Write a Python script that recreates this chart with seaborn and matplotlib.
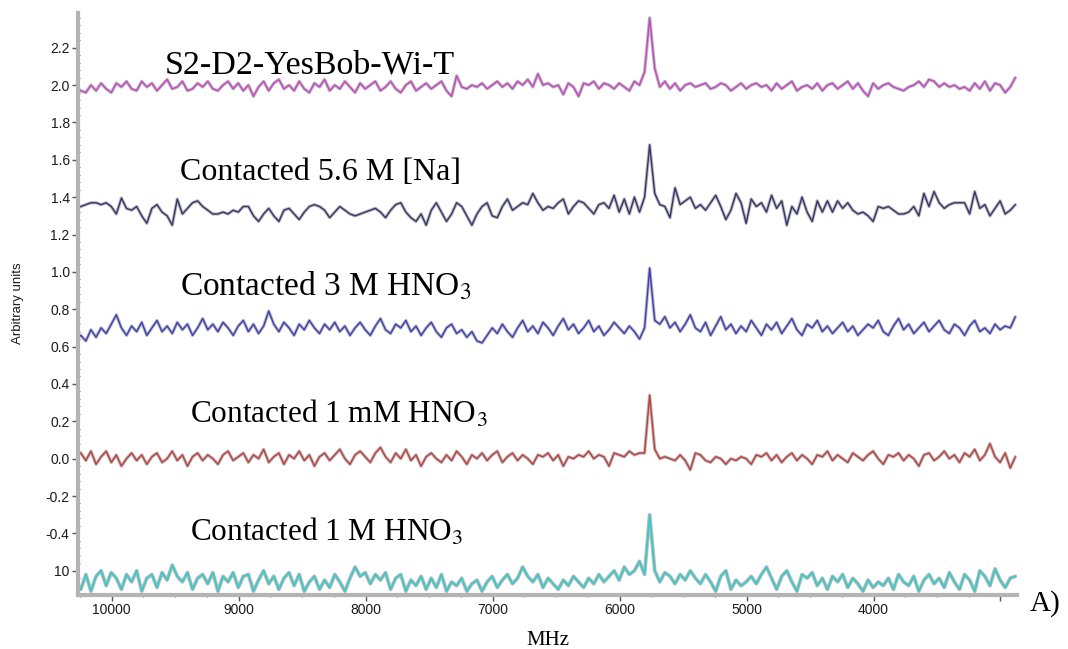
import numpy as np
import pandas as pd
import matplotlib
matplotlib.use("Agg")
import matplotlib.pyplot as plt
import matplotlib.patheffects as pe
from matplotlib.ticker import MultipleLocator, FixedLocator, FixedFormatter
import seaborn as sns

# Sampling grid of the spectra (MHz), high to low frequency
FREQ_START = 10283
FREQ_STEP = 40

# Spectrum values (arbitrary units), one list per sample
s2_d2_yesbob = [
    1.99, 1.97, 1.96, 2.00, 1.97, 2.01, 1.98, 1.96, 2.01, 1.99,
    2.02, 1.98, 1.97, 2.02, 1.99, 2.01, 1.97, 2.00, 2.03, 1.98,
    1.99, 2.02, 1.97, 1.98, 2.01, 1.99, 2.02, 1.98, 1.97, 2.00,
    2.02, 1.98, 2.01, 1.97, 2.00, 1.94, 1.99, 2.02, 1.97, 2.01,
    2.03, 1.98, 2.00, 1.97, 2.02, 1.98, 1.96, 2.01, 1.99, 2.03,
    1.97, 2.00, 1.98, 2.02, 1.99, 1.96, 2.01, 1.98, 2.00, 2.02,
    1.97, 1.99, 2.02, 1.98, 1.96, 2.00, 2.02, 1.97, 1.99, 2.01,
    1.98, 2.00, 2.02, 1.97, 1.94, 2.05, 1.99, 1.98, 2.00, 1.99,
    2.01, 1.98, 2.00, 2.02, 1.99, 2.01, 1.98, 2.02, 2.00, 2.03,
    1.99, 2.06, 2.00, 2.01, 1.99, 2.00, 1.95, 2.01, 1.99, 1.94,
    2.01, 2.00, 2.02, 1.98, 2.01, 2.00, 1.98, 2.01, 1.99, 1.97,
    2.02, 2.00, 2.07, 2.36, 2.09, 1.99, 2.02, 1.98, 2.01, 1.97,
    2.00, 2.01, 1.99, 2.00, 2.01, 1.98, 1.99, 2.01, 2.00, 1.97,
    1.99, 2.01, 1.98, 2.00, 2.01, 1.99, 2.00, 1.97, 2.01, 1.98,
    2.00, 2.02, 1.97, 1.99, 2.00, 1.98, 2.01, 1.97, 2.00, 2.01,
    1.98, 2.00, 2.02, 1.98, 2.01, 1.97, 1.94, 2.01, 1.98, 2.00,
    2.01, 1.99, 1.98, 1.97, 1.99, 2.00, 2.02, 1.99, 2.03, 2.02,
    1.99, 2.01, 1.99, 2.00, 1.98, 1.99, 1.97, 2.01, 1.98, 2.02,
    1.97, 2.01, 2.00, 1.96, 1.99, 2.04,
]

contacted_na = [
    1.34, 1.35, 1.36, 1.37, 1.37, 1.36, 1.37, 1.35, 1.31, 1.395,
    1.34, 1.33, 1.35, 1.30, 1.26, 1.34, 1.36, 1.32, 1.30, 1.25,
    1.39, 1.31, 1.34, 1.37, 1.38, 1.35, 1.33, 1.31, 1.31, 1.32,
    1.31, 1.33, 1.32, 1.35, 1.35, 1.30, 1.27, 1.31, 1.34, 1.30,
    1.27, 1.33, 1.34, 1.31, 1.28, 1.32, 1.35, 1.36, 1.35, 1.33,
    1.29, 1.32, 1.35, 1.33, 1.31, 1.30, 1.31, 1.32, 1.33, 1.34,
    1.32, 1.29, 1.33, 1.36, 1.37, 1.32, 1.29, 1.27, 1.31, 1.25,
    1.33, 1.37, 1.32, 1.27, 1.31, 1.37, 1.35, 1.30, 1.25, 1.31,
    1.35, 1.37, 1.30, 1.29, 1.35, 1.39, 1.33, 1.35, 1.37, 1.36,
    1.42, 1.37, 1.33, 1.35, 1.34, 1.37, 1.39, 1.31, 1.35, 1.38,
    1.37, 1.34, 1.31, 1.36, 1.37, 1.34, 1.41, 1.32, 1.39, 1.31,
    1.40, 1.32, 1.40, 1.68, 1.42, 1.36, 1.35, 1.29, 1.45, 1.36,
    1.38, 1.40, 1.34, 1.36, 1.33, 1.37, 1.41, 1.35, 1.28, 1.33,
    1.42, 1.37, 1.26, 1.39, 1.35, 1.37, 1.32, 1.41, 1.34, 1.38,
    1.25, 1.35, 1.31, 1.40, 1.32, 1.27, 1.38, 1.32, 1.38, 1.32,
    1.38, 1.34, 1.37, 1.33, 1.31, 1.32, 1.30, 1.27, 1.35, 1.34,
    1.35, 1.33, 1.31, 1.31, 1.32, 1.35, 1.30, 1.42, 1.35, 1.43,
    1.37, 1.34, 1.36, 1.37, 1.37, 1.37, 1.31, 1.43, 1.34, 1.36,
    1.30, 1.34, 1.38, 1.31, 1.33, 1.36,
]

contacted_3m = [
    0.64, 0.66, 0.63, 0.69, 0.65, 0.70, 0.67, 0.72, 0.77, 0.70,
    0.66, 0.71, 0.68, 0.73, 0.66, 0.70, 0.74, 0.68, 0.71, 0.67,
    0.73, 0.69, 0.72, 0.66, 0.70, 0.75, 0.69, 0.72, 0.68, 0.73,
    0.70, 0.66, 0.71, 0.74, 0.68, 0.72, 0.67, 0.71, 0.79, 0.72,
    0.68, 0.73, 0.70, 0.66, 0.72, 0.69, 0.74, 0.70, 0.67, 0.72,
    0.69, 0.73, 0.68, 0.71, 0.66, 0.70, 0.73, 0.69, 0.66, 0.71,
    0.75, 0.69, 0.67, 0.72, 0.70, 0.74, 0.68, 0.71, 0.66, 0.70,
    0.73, 0.68, 0.65, 0.70, 0.72, 0.67, 0.69, 0.65, 0.68, 0.63,
    0.62, 0.66, 0.70, 0.67, 0.72, 0.68, 0.65, 0.70, 0.74, 0.68,
    0.71, 0.67, 0.73, 0.70, 0.66, 0.71, 0.75, 0.69, 0.72, 0.67,
    0.70, 0.74, 0.68, 0.71, 0.66, 0.69, 0.73, 0.70, 0.67, 0.71,
    0.68, 0.64, 0.70, 1.02, 0.74, 0.72, 0.76, 0.70, 0.73, 0.68,
    0.72, 0.77, 0.70, 0.68, 0.73, 0.66, 0.71, 0.76, 0.69, 0.72,
    0.67, 0.71, 0.68, 0.74, 0.70, 0.66, 0.72, 0.69, 0.73, 0.67,
    0.71, 0.75, 0.69, 0.66, 0.72, 0.70, 0.74, 0.68, 0.71, 0.67,
    0.70, 0.73, 0.68, 0.71, 0.66, 0.69, 0.72, 0.70, 0.74, 0.68,
    0.66, 0.71, 0.75, 0.69, 0.72, 0.67, 0.70, 0.73, 0.68, 0.71,
    0.74, 0.69, 0.67, 0.72, 0.70, 0.66, 0.71, 0.74, 0.68, 0.70,
    0.67, 0.72, 0.69, 0.71, 0.70, 0.76,
]

contacted_1mm = [
    0.02, 0.03, -0.01, 0.04, -0.03, 0.01, 0.04, -0.02, 0.02, -0.04,
    0.00, 0.03, -0.01, 0.02, -0.03, 0.01, 0.03, -0.02, 0.00, 0.04,
    -0.01, 0.02, -0.04, 0.01, 0.03, -0.01, 0.02, 0.00, -0.03, 0.02,
    0.04, -0.01, 0.01, 0.03, -0.02, 0.02, 0.00, 0.05, -0.02, 0.01,
    0.03, -0.03, 0.02, 0.00, 0.04, -0.01, 0.02, -0.04, 0.01, 0.03,
    -0.01, 0.02, 0.05, 0.00, -0.03, 0.02, 0.04, 0.01, -0.02, 0.03,
    0.06, 0.01, -0.02, 0.03, 0.00, 0.05, -0.01, 0.02, -0.04, 0.01,
    0.03, 0.00, -0.02, 0.02, -0.01, 0.04, 0.01, -0.03, 0.02, 0.00,
    0.03, -0.01, 0.02, 0.04, -0.02, 0.01, 0.03, -0.01, 0.02, 0.00,
    -0.03, 0.02, 0.01, 0.03, -0.01, 0.02, -0.04, 0.01, 0.00, 0.02,
    0.01, 0.04, 0.00, 0.02, 0.01, -0.04, 0.03, 0.02, 0.01, 0.04,
    0.02, 0.03, 0.03, 0.34, 0.05, 0.00, 0.01, 0.00, -0.01, 0.02,
    -0.01, -0.06, 0.03, 0.02, -0.01, -0.02, 0.01, 0.00, -0.03, 0.00,
    -0.01, 0.01, 0.00, -0.03, 0.02, 0.01, 0.03, -0.01, 0.02, -0.02,
    0.01, 0.03, -0.01, 0.02, 0.00, -0.03, 0.02, 0.01, 0.04, -0.01,
    0.02, 0.00, -0.02, 0.03, 0.01, -0.01, 0.02, 0.04, 0.00, -0.03,
    0.02, 0.01, 0.03, -0.01, 0.02, 0.00, -0.04, 0.02, 0.03, -0.01,
    0.01, 0.04, 0.00, 0.02, -0.02, 0.03, 0.01, 0.05, -0.01, 0.02,
    0.08, 0.01, -0.02, 0.03, -0.05, 0.01,
]

contacted_1m = [
    -0.66, -0.70, -0.62, -0.71, -0.63, -0.60, -0.68, -0.61, -0.64, -0.70,
    -0.62, -0.66, -0.60, -0.71, -0.64, -0.62, -0.69, -0.61, -0.65, -0.57,
    -0.63, -0.66, -0.61, -0.70, -0.64, -0.62, -0.67, -0.61, -0.71, -0.63,
    -0.66, -0.61, -0.69, -0.63, -0.62, -0.71, -0.65, -0.60, -0.67, -0.63,
    -0.70, -0.64, -0.61, -0.68, -0.62, -0.71, -0.66, -0.63, -0.70, -0.65,
    -0.69, -0.62, -0.66, -0.71, -0.64, -0.58, -0.63, -0.61, -0.67, -0.62,
    -0.65, -0.61, -0.70, -0.64, -0.62, -0.71, -0.65, -0.68, -0.63, -0.70,
    -0.64, -0.69, -0.62, -0.71, -0.66, -0.68, -0.64, -0.71, -0.67, -0.65,
    -0.71, -0.66, -0.63, -0.69, -0.65, -0.62, -0.67, -0.64, -0.58, -0.63,
    -0.66, -0.62, -0.69, -0.64, -0.67, -0.70, -0.65, -0.68, -0.63, -0.66,
    -0.69, -0.64, -0.67, -0.62, -0.66, -0.63, -0.60, -0.65, -0.58, -0.62,
    -0.60, -0.55, -0.62, -0.30, -0.60, -0.66, -0.61, -0.63, -0.67, -0.62,
    -0.65, -0.60, -0.64, -0.67, -0.62, -0.66, -0.71, -0.63, -0.60, -0.70,
    -0.65, -0.68, -0.66, -0.63, -0.67, -0.62, -0.58, -0.64, -0.70, -0.63,
    -0.60, -0.66, -0.71, -0.62, -0.64, -0.61, -0.68, -0.64, -0.70, -0.63,
    -0.66, -0.62, -0.69, -0.64, -0.67, -0.71, -0.65, -0.69, -0.66, -0.68,
    -0.64, -0.70, -0.62, -0.66, -0.68, -0.63, -0.71, -0.65, -0.62, -0.67,
    -0.64, -0.69, -0.61, -0.66, -0.70, -0.62, -0.65, -0.71, -0.60, -0.63,
    -0.68, -0.59, -0.65, -0.69, -0.64, -0.63,
]

series_names = ["S2-D2-YesBob-Wi-T", "Contacted 5.6 M [Na]", "Contacted 3 M HNO3",
                "Contacted 1 mM HNO3", "Contacted 1 M HNO3"]
series_values = [s2_d2_yesbob, contacted_na, contacted_3m, contacted_1mm, contacted_1m]
series_colors = ["#c645c6", "#34346e", "#3c3cb8", "#c03c3c", "#3ec8c8"]

# Label text, left pixel, baseline pixel, font size
label_texts = ["S2-D2-YesBob-Wi-T", "Contacted 5.6 M [Na]",
               r"Contacted 3 M HNO$_{\mathrm{3}}$",
               r"Contacted 1 mM HNO$_{\mathrm{3}}$",
               r"Contacted 1 M HNO$_{\mathrm{3}}$"]
label_pos = [(165, 73), (180, 180), (180, 295), (190, 423), (190, 541)]
label_sizes = [24.5, 23, 24, 22.5, 22.5]

ytick_values = [-0.6, -0.4, -0.2, 0.0, 0.2, 0.4, 0.6, 0.8, 1.0, 1.2, 1.4, 1.6, 1.8, 2.0, 2.2]
ytick_labels = ["10", "-0.4", "-0.2", "0.0", "0.2", "0.4", "0.6", "0.8", "1.0",
                "1.2", "1.4", "1.6", "1.8", "2.0", "2.2"]
xtick_values = [10000, 9000, 8000, 7000, 6000, 5000, 4000, 3000]
xtick_labels = ["10000", "9000", "8000", "7000", "6000", "5000", "4000", ""]

frames = []
for name, vals in zip(series_names, series_values):
    freq = FREQ_START - FREQ_STEP * np.arange(len(vals))
    frames.append(pd.DataFrame({"MHz": freq, "value": vals, "series": name}))
data = pd.concat(frames, ignore_index=True)

sns.set_style("ticks")
plt.rcParams["font.family"] = ["Liberation Sans", "DejaVu Sans"]
plt.rcParams["mathtext.fontset"] = "stix"

W, H = 1068, 649
fig = plt.figure(figsize=(W / 100, H / 100), dpi=100)
ax = fig.add_axes([78 / W, 1 - 595 / H, (1017 - 78) / W, (595 - 13) / H])

for name, color in zip(series_names, series_colors):
    sub = data[data["series"] == name]
    lw = 1.3 if name == "Contacted 1 M HNO3" else 1.0
    sns.lineplot(data=sub, x="MHz", y="value", color=color, lw=lw, ax=ax,
                 sort=False, estimator=None,
                 path_effects=[pe.Stroke(linewidth=lw + 1.4, foreground="#bcbcbc"),
                               pe.Normal()])

ax.set_xlim(10265, 2870)
ax.set_ylim(-0.73, 2.386)

ax.xaxis.set_major_locator(FixedLocator(xtick_values))
ax.xaxis.set_major_formatter(FixedFormatter(xtick_labels))
ax.xaxis.set_minor_locator(MultipleLocator(250))
ax.yaxis.set_major_locator(FixedLocator(ytick_values))
ax.yaxis.set_major_formatter(FixedFormatter(ytick_labels))
ax.yaxis.set_minor_locator(MultipleLocator(0.04))

for side in ["top", "right"]:
    ax.spines[side].set_visible(False)
for side in ["left", "bottom"]:
    ax.spines[side].set_color("#b4b4b4")
    ax.spines[side].set_linewidth(3)

ax.tick_params(axis="both", which="major", labelsize=10, labelcolor="#1a1a1a",
               color="#555555", width=1, length=4, direction="out", pad=2)
ax.tick_params(axis="both", which="minor", color="#666666", width=0.8,
               length=2.5, direction="inout")
ax.set_xlabel("")
ax.set_ylabel("")

fig.text(18 / W, 1 - 303 / H, "Arbitrary units", rotation=90, ha="center",
         va="center", fontsize=9.5, color="#1a1a1a")
fig.text(548 / W, 1 - 645 / H, "MHz", ha="center", va="baseline",
         fontsize=15, color="black", family=["Liberation Serif"])
fig.text(1030 / W, 1 - 611 / H, "A)", ha="left", va="baseline",
         fontsize=21, color="black", family=["Liberation Serif"])

for text, (px, py), size in zip(label_texts, label_pos, label_sizes):
    fig.text(px / W, 1 - py / H, text, ha="left", va="baseline",
             fontsize=size, color="black", family=["Liberation Serif"])

fig.savefig("out.png", dpi=100)
